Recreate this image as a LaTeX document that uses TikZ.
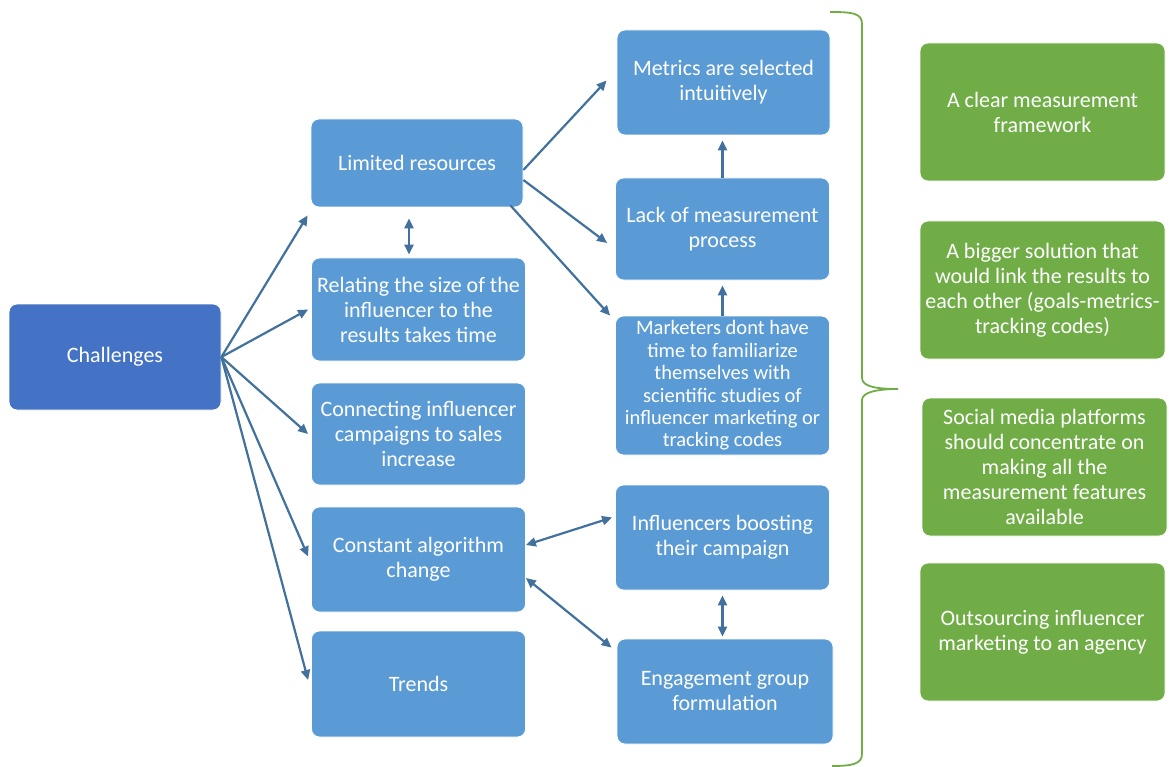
\documentclass[tikz,border=0pt]{standalone}
\usepackage{fontspec}
\setmainfont{Carlito}
\usepackage{xcolor}
\usetikzlibrary{arrows.meta, positioning, calc}
\definecolor{boxblue}{HTML}{5B9BD5}
\definecolor{rootblue}{HTML}{4472C4}
\definecolor{solgreen}{HTML}{70AD47}
\definecolor{arrblue}{HTML}{41719C}
\begin{document}
\begin{tikzpicture}[
  x=1pt, y=-1pt,
  box/.style={rectangle, fill=boxblue, draw=white, line width=0.8pt, text=white, minimum width=214pt, minimum height=104pt, font=\fontsize{22}{25}\selectfont, align=center, inner sep=1pt, rounded corners=8pt},
  root/.style={box, fill=rootblue, minimum width=212pt, minimum height=106pt},
  sol/.style={box, fill=solgreen, minimum width=245pt, minimum height=138pt},
  arr/.style={-{Triangle[length=10pt, width=9pt]}, line width=2.2pt, draw=arrblue},
  both/.style={arr, {Triangle[length=10pt, width=9pt]}-{Triangle[length=10pt, width=9pt]}}
]
\useasboundingbox (0,0) rectangle (1169,767);
\node[root] (chal) at (115,357) {Challenges};
\node[box, minimum width=212pt, minimum height=88pt] (limres) at (417,163) {Limited resources};
\node[box, minimum height=103pt] (relsize) at (418.5,309.5) {Relating the size of the\\influencer to the\\results takes time};
\node[box, minimum height=102pt] (connect) at (418.5,434) {Connecting influencer\\campaigns to sales\\increase};
\node[box, minimum height=105pt] (algo) at (418.5,559.5) {Constant algorithm\\change};
\node[box, minimum height=106pt] (trends) at (418.5,684) {Trends};
\node[box, minimum width=213pt, minimum height=105pt] (metrics) at (723.5,82.5) {Metrics are selected\\intuitively};
\node[box, minimum height=102pt] (lackproc) at (722.5,229) {Lack of measurement\\process};
\node[box, minimum height=139pt, font=\fontsize{20.5}{22.4}\selectfont] (notime) at (722.5,385.5) {Marketers dont have\\time to familiarize\\themselves with\\scientific studies of\\influencer marketing or\\tracking codes};
\node[box, minimum height=105pt] (boost) at (722.5,537.5) {Influencers boosting\\their campaign};
\node[box, minimum width=216pt, minimum height=105pt] (engage) at (725,691.5) {Engagement group\\formulation};
\node[sol] (frame) at (1042.5,112) {A clear measurement\\framework};
\node[sol] (bigsol) at (1042.5,290) {A bigger solution that\\would link the results to\\each other (goals-metrics-\\tracking codes)};
\node[sol] (social) at (1044.5,467) {Social media platforms\\should concentrate on\\making all the\\measurement features\\available};
\node[sol] (outsrc) at (1042.5,632) {Outsourcing influencer\\marketing to an agency};
\draw[arr] (chal.east) -- ([xshift=-3pt, yshift=-8pt]limres.south west);
\draw[arr] (chal.east) -- ([xshift=-3pt]relsize.west);
\draw[arr] (chal.east) -- ([xshift=-3pt]connect.west);
\draw[arr] (chal.east) -- ([xshift=-3pt, yshift=3pt]algo.west);
\draw[arr] (chal.east) -- ([xshift=-3pt, yshift=4pt]trends.west);
\draw[both, shorten <=11pt, shorten >=3pt] ([xshift=-8pt]limres.south) -- ([xshift=-9.5pt]relsize.north);
\draw[arr] ([yshift=-7pt]limres.east) -- ([xshift=-10pt, yshift=2pt]metrics.west);
\draw[arr] ([yshift=-17pt]limres.east) -- ([xshift=-8pt, yshift=-14pt]lackproc.west);
\draw[arr] ([xshift=-13pt, yshift=2pt]limres.south east) -- ([xshift=-5pt]notime.north west);
\draw[arr, shorten >=5pt] (lackproc.north) -- (lackproc.north |- metrics.south);
\draw[arr, shorten >=5pt] (notime.north) -- (notime.north |- lackproc.south);
\draw[both] ([yshift=14.5pt]algo.east) -- ([xshift=-3pt, yshift=20pt]boost.west);
\draw[both] ([yshift=-18.5pt]algo.east) -- ([xshift=-5pt, yshift=-9pt]engage.north west);
\draw[both, shorten <=5pt, shorten >=2pt] (boost.south) -- (boost.south |- engage.north);
\draw[solgreen, line width=1.8pt] (830,12) .. controls (852,12) and (862,13) .. (862,24) -- (862,378)
  .. controls (862,387) and (878,389) .. (898,389) .. controls (878,389) and (862,392) .. (862,400)
  -- (862,754) .. controls (862,764) and (852,766) .. (832,766);
\end{tikzpicture}
\end{document}
